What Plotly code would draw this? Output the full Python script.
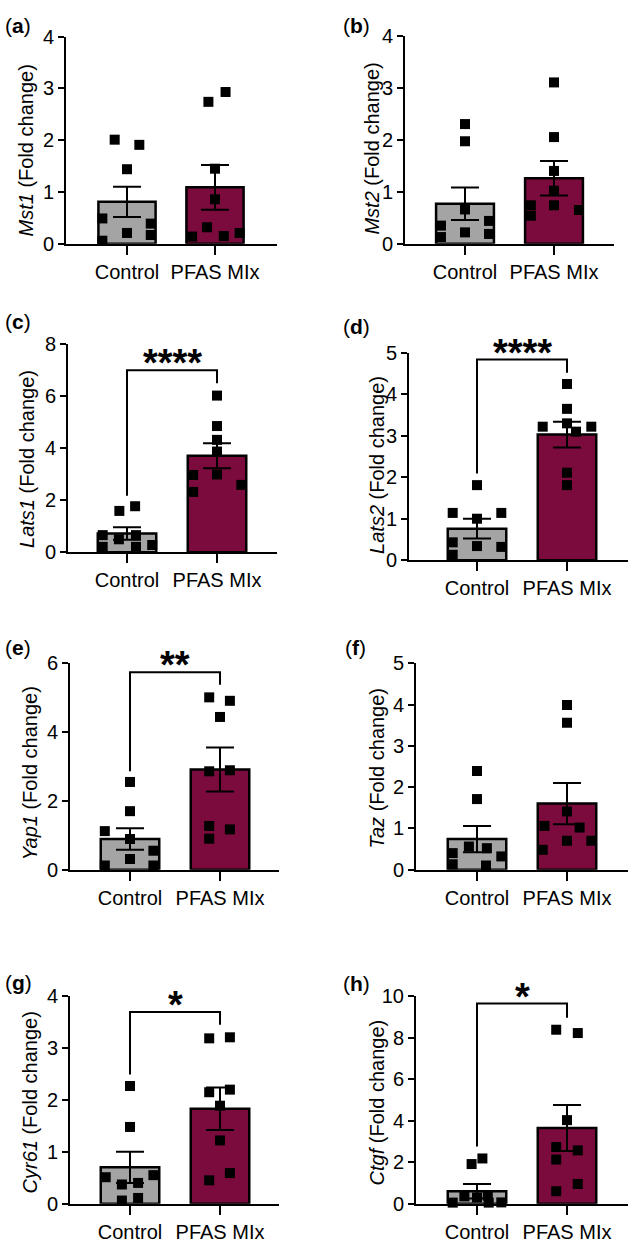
import plotly.graph_objects as go

W, H = 633, 1251
FONT = "Arial, Liberation Sans, sans-serif"

GROUPS = ["Control", "PFAS MIx"]
GENES = ["Mst1", "Mst2", "Lats1", "Lats2", "Yap1", "Taz", "Cyr61", "Ctgf"]
LETTERS = ["a", "b", "c", "d", "e", "f", "g", "h"]
Y_MAX = [4, 4, 8, 5, 6, 5, 4, 10]
Y_STEP = [1, 1, 2, 1, 2, 1, 1, 2]

# bar heights (mean) and SEM
CONTROL_MEAN = [0.81, 0.77, 0.72, 0.76, 0.89, 0.74, 0.70, 0.60]
CONTROL_SEM = [0.29, 0.31, 0.24, 0.24, 0.31, 0.32, 0.30, 0.35]
PFAS_MEAN = [1.09, 1.26, 3.71, 3.03, 2.91, 1.60, 1.83, 3.65]
PFAS_SEM = [0.43, 0.33, 0.48, 0.31, 0.64, 0.50, 0.41, 1.11]

# individual animals
CONTROL_PTS = [
    [2.01, 1.91, 1.44, 0.49, 0.21, 0.39, 0.06, 0.17],
    [2.30, 1.97, 0.66, 0.22, 0.35, 0.13, 0.44, 0.19],
    [1.59, 1.77, 0.66, 0.50, 0.66, 0.21, 0.21, 0.28],
    [1.81, 1.14, 1.00, 1.14, 0.43, 0.34, 0.32, 0.13],
    [2.55, 1.70, 1.12, 0.89, 0.31, 0.55, 0.12, 0.12],
    [2.39, 1.71, 0.56, 0.52, 0.40, 0.13, 0.10, 0.32],
    [2.27, 1.48, 0.51, 0.55, 0.37, 0.40, 0.06, 0.11],
    [1.91, 2.18, 0.05, 0.35, 0.30, 0.38, 0.05, 0.06],
]
CONTROL_JIT = [
    [-0.14, 0.14, 0.0, -0.28, 0.0, 0.27, -0.28, 0.27],
    [0.0, 0.0, 0.0, 0.0, -0.27, -0.27, 0.27, 0.27],
    [-0.085, 0.09, -0.27, -0.09, 0.1, -0.27, 0.1, 0.28],
    [0.0, -0.27, 0.0, 0.27, -0.27, 0.0, 0.27, -0.27],
    [0.0, 0.0, -0.28, 0.0, 0.0, 0.26, -0.28, 0.26],
    [0.0, 0.0, -0.09, 0.11, -0.27, -0.27, 0.10, 0.27],
    [0.0, 0.0, -0.27, 0.26, -0.09, 0.09, -0.09, 0.09],
    [-0.06, 0.06, -0.27, -0.14, 0.0, 0.12, 0.13, 0.27],
]
PFAS_PTS = [
    [2.74, 2.93, 1.45, 0.86, 0.32, 0.14, 0.15, 0.21],
    [3.10, 2.05, 1.40, 1.02, 0.74, 0.74, 0.54, 0.65],
    [6.02, 4.85, 4.32, 3.87, 2.97, 2.99, 2.32, 2.59],
    [4.25, 3.65, 3.30, 3.22, 3.10, 3.22, 2.11, 1.81],
    [5.01, 4.91, 4.44, 2.86, 2.89, 1.27, 1.17, 0.90],
    [3.99, 3.56, 1.41, 1.06, 1.02, 0.70, 0.48, 0.70],
    [3.19, 3.21, 2.15, 2.20, 1.89, 1.22, 0.45, 0.59],
    [8.39, 8.23, 4.03, 2.73, 2.57, 2.13, 0.95, 0.60],
]
PFAS_JIT = [
    [-0.075, 0.12, 0.0, 0.0, -0.09, -0.26, 0.10, 0.28],
    [0.0, 0.0, 0.0, 0.0, 0.0, -0.26, -0.26, 0.28],
    [0.0, 0.0, 0.0, 0.0, -0.265, 0.0, -0.265, 0.27],
    [0.0, 0.0, 0.0, -0.27, 0.10, 0.27, 0.0, 0.0],
    [-0.12, 0.11, 0.0, -0.12, 0.11, -0.12, 0.11, -0.12],
    [0.0, 0.0, 0.0, -0.25, 0.14, 0.0, -0.27, 0.27],
    [-0.12, 0.11, -0.12, 0.11, 0.0, 0.0, -0.12, 0.11],
    [-0.12, 0.12, 0.0, -0.12, 0.12, -0.12, 0.12, -0.12],
]

# significance brackets: label, left leg end, top, right leg end
SIG_LABEL = ["", "", "****", "****", "**", "", "*", "*"]
SIG_LEFT = [None, None, 2.17, 2.09, 2.86, None, 2.49, 2.76]
SIG_TOP = [None, None, 6.99, 4.84, 5.74, None, 3.70, 9.65]
SIG_RIGHT = [None, None, 6.49, 4.52, 5.38, None, 3.45, 8.97]

# panel geometry in pixels: y-axis x, x-axis right end, control x, pfas x, y=0, y top
BOX = [
    (66, 277, 127, 215, 237, 26),
    (405, 614, 465, 554, 237, 25),
    (68, 277, 127, 217, 551, 339),
    (409, 628, 477, 567, 559, 348),
    (70, 279, 130, 220, 874, 664),
    (416, 628, 477, 567, 874, 664),
    (70, 279, 130, 220, 1214, 1003),
    (416, 628, 477, 567, 1214, 1003),
]
LABEL_POS = [(3, 15), (341, 15), (3, 316), (341, 321), (3, 648), (343, 648), (3, 989), (341, 990)]
TITLE_POS = [(26, 142), (372, 140), (27, 456), (377, 462), (30, 776), (377, 771), (30, 1111), (377, 1111)]

GRAY = "#a4a4a4"
MAROON = "#7b0a3d"

fig = go.Figure()
annotations = []
axes = {}

for i, gene in enumerate(GENES):
    n = "" if i == 0 else str(i + 1)
    xa, ya = "x" + n, "y" + n
    x0, x1, c0, c1, yb, yt = BOX[i]
    unit = c1 - c0

    fig.add_trace(go.Bar(
        x=[0, 1], y=[CONTROL_MEAN[i], PFAS_MEAN[i]], width=0.65,
        marker=dict(color=[GRAY, MAROON], line=dict(color="black", width=2.5)),
        xaxis=xa, yaxis=ya))
    fig.add_trace(go.Scatter(
        x=[j for j in CONTROL_JIT[i]] + [1 + j for j in PFAS_JIT[i]],
        y=CONTROL_PTS[i] + PFAS_PTS[i], mode="markers",
        marker=dict(symbol="square", size=10, color="black"),
        cliponaxis=False, xaxis=xa, yaxis=ya))
    # mean +/- SEM drawn on top of the points
    fig.add_trace(go.Scatter(
        x=[0, 1], y=[CONTROL_MEAN[i], PFAS_MEAN[i]], mode="markers",
        marker=dict(size=1, color="rgba(0,0,0,0)"),
        error_y=dict(type="data", array=[CONTROL_SEM[i], PFAS_SEM[i]],
                     color="black", thickness=2, width=14),
        cliponaxis=False, xaxis=xa, yaxis=ya))

    if SIG_LABEL[i]:
        fig.add_trace(go.Scatter(
            x=[0, 0, 1, 1], y=[SIG_LEFT[i], SIG_TOP[i], SIG_TOP[i], SIG_RIGHT[i]],
            mode="lines", line=dict(color="black", width=2),
            cliponaxis=False, xaxis=xa, yaxis=ya))
        annotations.append(dict(
            x=0.5, y=SIG_TOP[i], xref=xa, yref=ya, text="<b>%s</b>" % SIG_LABEL[i],
            showarrow=False, yanchor="middle", yshift=7,
            font=dict(family=FONT, size=38, color="black")))

    axes["xaxis" + n] = dict(
        domain=[x0 / W, x1 / W], range=[(x0 - c0) / unit, (x1 - c0) / unit],
        anchor=ya, tickvals=[0, 1], ticktext=GROUPS,
        showline=True, linecolor="black", linewidth=2,
        ticks="outside", ticklen=9, tickwidth=2, tickcolor="black",
        showgrid=False, zeroline=False,
        tickfont=dict(family=FONT, size=20, color="black"))
    axes["yaxis" + n] = dict(
        domain=[1 - yb / H, 1 - yt / H], range=[0, Y_MAX[i]], anchor=xa,
        dtick=Y_STEP[i], tick0=0,
        showline=True, linecolor="black", linewidth=2,
        ticks="outside", ticklen=6, tickwidth=2, tickcolor="black",
        showgrid=False, zeroline=False,
        tickfont=dict(family=FONT, size=20, color="black"))

    lx, ly = LABEL_POS[i]
    annotations.append(dict(
        x=lx / W, y=1 - ly / H, xref="paper", yref="paper",
        text="(<b>%s</b>)" % LETTERS[i], showarrow=False,
        xanchor="left", yanchor="middle",
        font=dict(family=FONT, size=21, color="black")))
    tx, ty = TITLE_POS[i]
    annotations.append(dict(
        x=tx / W, y=1 - ty / H, xref="paper", yref="paper",
        text="<i>%s</i> (Fold change)" % gene, showarrow=False, textangle=-90,
        xanchor="center", yanchor="middle",
        font=dict(family=FONT, size=20, color="black")))

fig.update_layout(
    width=W, height=H, margin=dict(l=0, r=0, t=0, b=0),
    paper_bgcolor="white", plot_bgcolor="white",
    showlegend=False, annotations=annotations,
    font=dict(family=FONT, color="black"),
    **axes)

# page body margin would otherwise shift the figure inside the window
fig.write_html("out.html", config={"displayModeBar": False},
               post_script="document.body.style.margin='0';document.body.style.overflow='hidden';")
